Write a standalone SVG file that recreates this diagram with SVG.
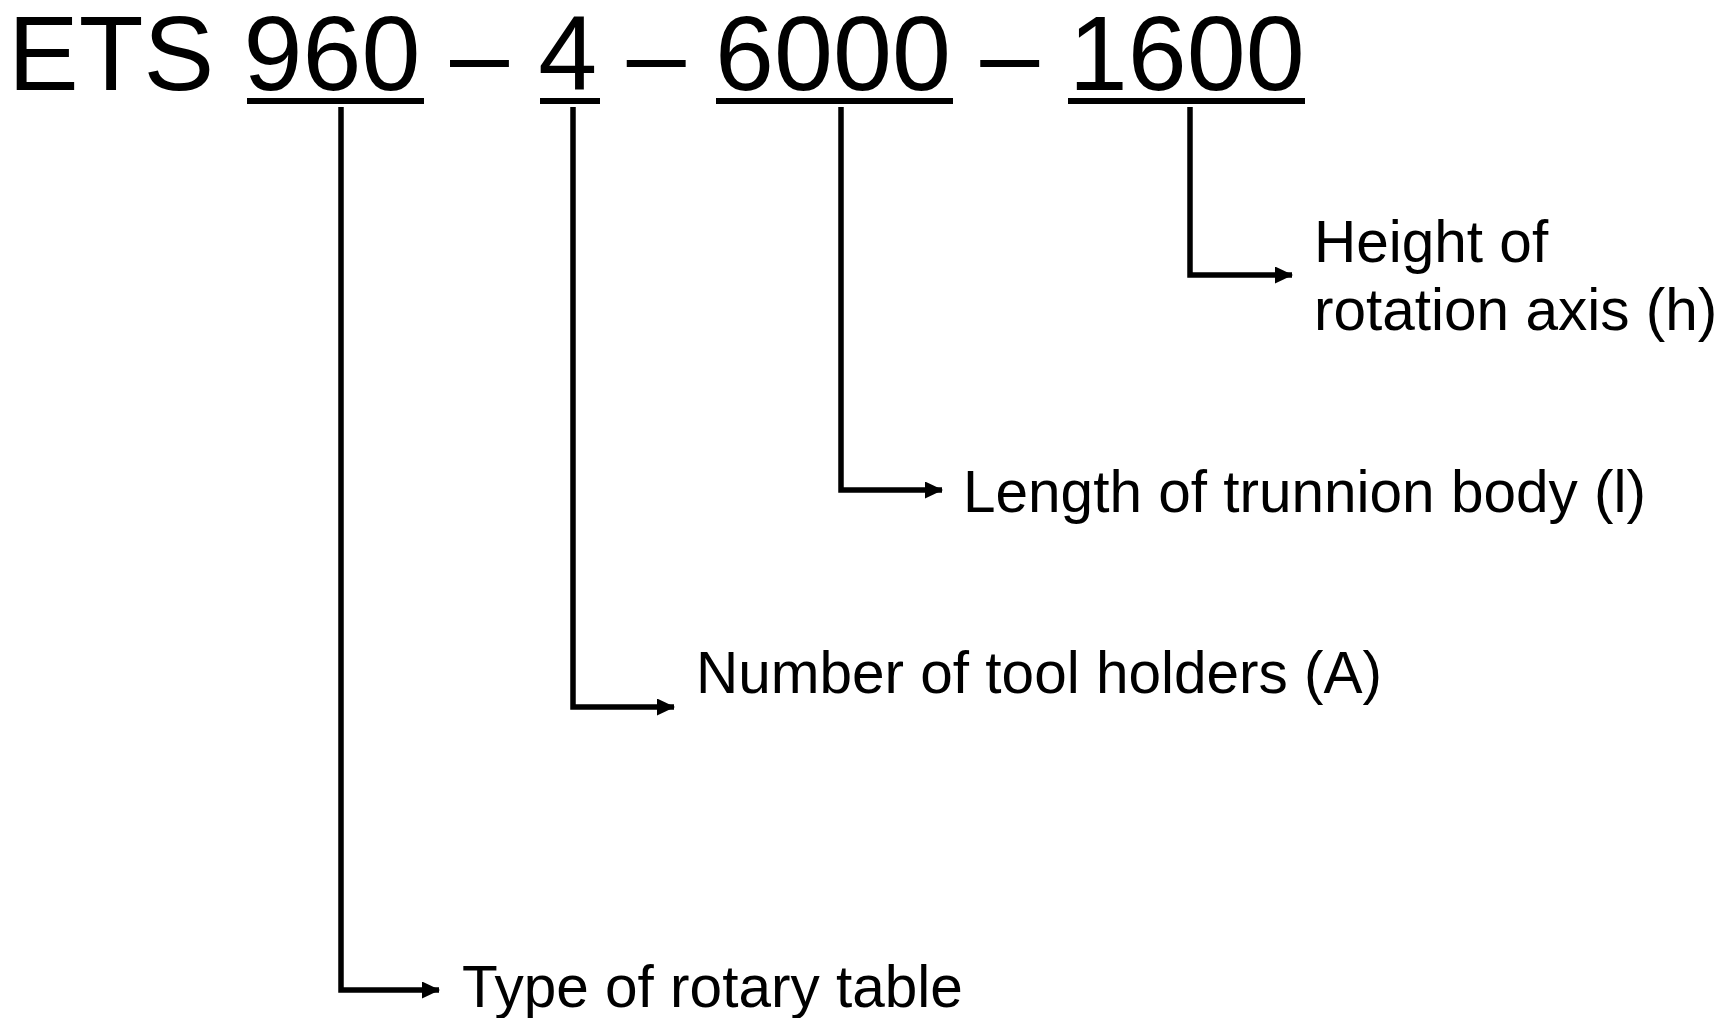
<svg xmlns="http://www.w3.org/2000/svg" width="1724" height="1018" viewBox="0 0 1724 1018">
<defs>
<style>
.t{font-family:"Liberation Sans",Arial,sans-serif;fill:#000}
.title{font-size:106px}
.lbl{font-size:58.5px}
.ul{stroke:#000;stroke-width:6;fill:none}
.c{stroke:#000;stroke-width:5.5;fill:none;stroke-linejoin:miter}
</style>
<marker id="ah" markerWidth="18" markerHeight="17" refX="17" refY="8.5" orient="auto" markerUnits="userSpaceOnUse">
<path d="M0,0 L18,8.5 L0,17 Z" fill="#000"/>
</marker>
</defs>
<rect width="1724" height="1018" fill="#fff"/>
<g id="code">
<text class="t title" x="8" y="90" xml:space="preserve">ETS 960 – 4 – 6000 – 1600</text>
<line class="ul" x1="247" y1="101" x2="424" y2="101"/>
<line class="ul" x1="540" y1="101" x2="600" y2="101"/>
<line class="ul" x1="716" y1="101" x2="953" y2="101"/>
<line class="ul" x1="1068" y1="101" x2="1305" y2="101"/>
</g>
<g id="connectors">
<path class="c" d="M341,107 V990 H439" marker-end="url(#ah)"/>
<path class="c" d="M573,107 V707 H674" marker-end="url(#ah)"/>
<path class="c" d="M841,107 V490 H942" marker-end="url(#ah)"/>
<path class="c" d="M1190,107 V275 H1292" marker-end="url(#ah)"/>
</g>
<g id="label-type"><text class="t lbl" x="462" y="1007">Type of rotary table</text></g>
<g id="label-number"><text class="t lbl" x="696" y="693">Number of tool holders (A)</text></g>
<g id="label-length"><text class="t lbl" x="963" y="512">Length of trunnion body (l)</text></g>
<g id="label-height"><text class="t lbl" x="1314" y="262">Height of</text><text class="t lbl" x="1314" y="330">rotation axis (h)</text></g>
</svg>
